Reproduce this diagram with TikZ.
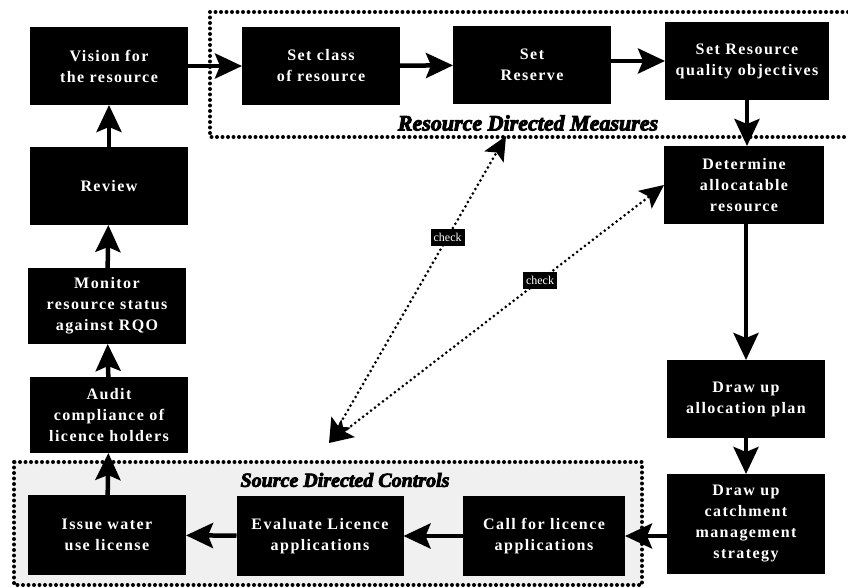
\documentclass[tikz,border=0pt]{standalone}
\usepackage{fontspec}
\setmainfont{Liberation Serif}
\usetikzlibrary{positioning}
\usetikzlibrary{arrows.meta}

\begin{document}
\begin{tikzpicture}[x=1pt, y=-1pt,
        box/.style = {
            fill = black,
            text = white,
            align = center,
            minimum width = #1,
            minimum height = 78pt,
            inner sep = 2pt,
            outer sep = 0pt,
            font = \fontsize{16}{21}\selectfont\bfseries\addfontfeature{LetterSpace=9}
        },
        box/.default = 158pt,
        flow/.style = {
            line width = 4.5pt,
            -{Stealth[length=27pt, width=25pt, inset=5pt]}
        },
        chk/.style = {
            line width = 3pt,
            dash pattern = on 0pt off 5pt,
            line cap = round,
            {Stealth[length=24pt, width=22pt, inset=5pt]}-{Stealth[length=24pt, width=22pt, inset=5pt]}
        },
        frame/.style = {
            line width = 4pt,
            dash pattern = on 0pt off 5.5pt,
            line cap = round
        },
        tag/.style = {
            fill = black,
            text = white,
            inner sep = 3pt,
            minimum height = 17pt,
            font = \fontsize{12}{12}\selectfont
        },
        grp/.style = {
            font = \fontsize{#1}{#1}\selectfont\bfseries\itshape\addfontfeature{FakeBold=4}
        }
        ]
\useasboundingbox (0,0) rectangle (848,588);
%
        \fill[gray!12] (14,462) rectangle (642,585);
        \draw[frame] (848,12) -- (210,12) -- (210,137) -- (848,137);
        \draw[frame] (14,462) rectangle (642,585);
        \node[grp=22] (rdm) at (528,123) {Resource Directed Measures};
        \node[grp=20] (sdc) at (345,480) {Source Directed Controls};
%
        \node[box] (vision) at (109,66) {Vision for\\the resource};
        \node[box] (class) at (321,66) {Set class\\of resource};
        \node[box] (reserve) at (532,65) {Set\\Reserve};
        \node[box=164pt] (rqo) at (747,61) {Set Resource\\quality objectives};
%
        \node[box=160pt] (determine) at (744,185) {Determine\\allocatable\\resource};
        \node[box] (alloc) at (746,399) {Draw up\\allocation plan};
        \node[box, minimum height=100pt] (catchment) at (746,524) {Draw up\\catchment\\management\\strategy};
%
        \node[box, minimum height=80pt] (issue) at (107,535) {Issue water\\use license};
        \node[box=167pt, minimum height=80pt] (evaluate) at (320,536) {Evaluate Licence\\applications};
        \node[box=162pt, minimum height=80pt] (call) at (544,536) {Call for licence\\applications};
%
        \node[box] (review) at (109,186) {Review};
        \node[box, minimum height=76pt] (monitor) at (107,306) {Monitor\\resource status\\against RQO};
        \node[box, minimum height=76pt] (audit) at (109,415) {Audit\\compliance of\\licence holders};
%
        \coordinate (hub) at (329,443);
        \coordinate (rdmtip) at (506,136);
%
        \draw[flow] (vision) -- (class);
        \draw[flow] (class) -- (reserve);
        \draw[flow] (reserve.east |- rqo) -- (rqo);
        \draw[flow] (rqo) -- (determine.north -| rqo);
        \draw[flow] (determine.south -| alloc) -- (alloc);
        \draw[flow] (alloc) -- (catchment);
        \draw[flow] (catchment.west |- call) -- (call);
        \draw[flow] (call) -- (evaluate);
        \draw[flow] (evaluate) -- (issue);
        \draw[flow] (issue) -- (audit);
        \draw[flow] (audit) -- (monitor);
        \draw[flow] (monitor) -- (review);
        \draw[flow] (review) -- (vision);
%
        \draw[chk] (hub) -- (rdmtip) node[tag, pos=0.67] {check};
        \draw[chk] (hub) -- (determine.west) node[tag, pos=0.63] {check};
\end{tikzpicture}
\end{document}
